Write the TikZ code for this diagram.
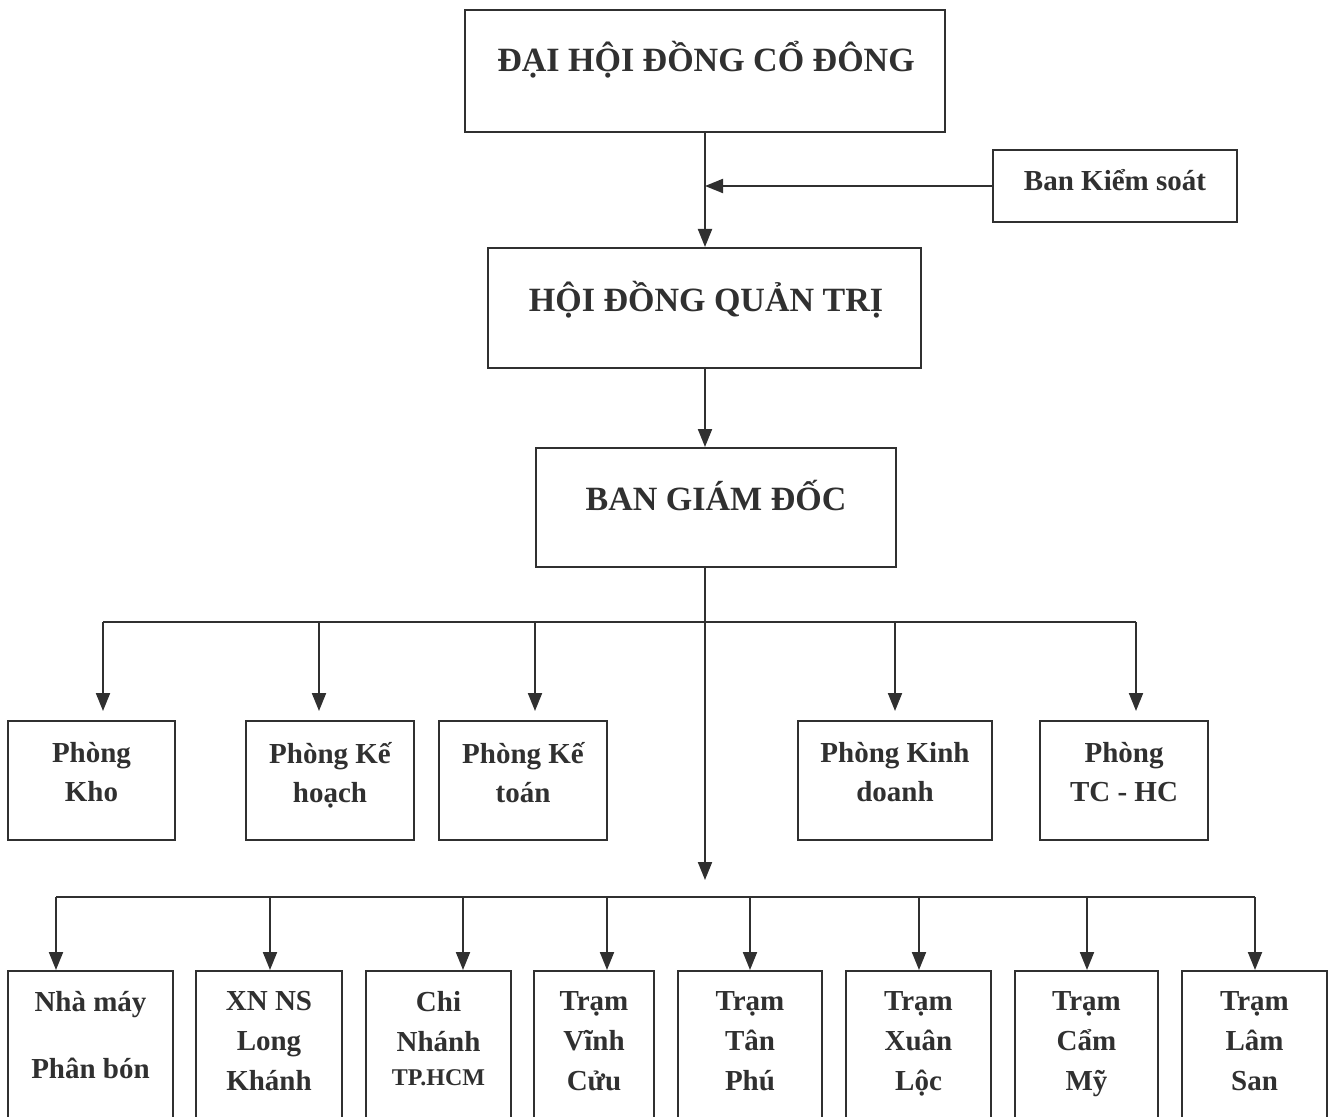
\documentclass[tikz,border=0pt]{standalone}
\usepackage{fontspec}
\setmainfont{Liberation Serif}
\usetikzlibrary{arrows.meta,calc}
\definecolor{ink}{HTML}{303030}
\begin{document}
\begin{tikzpicture}[x=0.5pt,y=-0.5pt,
  box/.style={draw=ink, line width=1pt, rectangle, inner sep=0pt},
  ln/.style={draw=ink, line width=1pt},
  arr/.style={draw=ink, line width=1pt, -{Triangle[width=7pt,length=9pt]}},
  big/.style={font=\bfseries\fontsize{17}{20}\selectfont, text=ink, inner sep=0pt},
  mid/.style={font=\bfseries\fontsize{14.5}{19}\selectfont, text=ink, inner sep=0pt},
  rowa/.style={font=\bfseries\fontsize{14.5}{19.5}\selectfont, text=ink, inner sep=0pt, align=center, anchor=north,
    execute at begin node=\strut, execute at end node=\strut},
  rowb/.style={font=\bfseries\fontsize{14.5}{20}\selectfont, text=ink, inner sep=0pt, align=center, anchor=north,
    execute at begin node=\strut, execute at end node=\strut},
]
\useasboundingbox (0,0) rectangle (1331,1117);
\fill[white] (0,0) rectangle (1331,1117);

% top boxes
\node[box, minimum width=240pt, minimum height=61pt] (dh) at (705,71) {};
\node[big, anchor=base] (tdh) at (706,72) {ĐẠI HỘI ĐỒNG CỔ ĐÔNG};
\node[box, minimum width=122pt, minimum height=36pt] (bks) at (1115,186) {};
\node[mid, anchor=base] (tbks) at (1115,191) {Ban Kiểm soát};
\node[box, minimum width=216.5pt, minimum height=60pt] (hd) at (704.5,308) {};
\node[big, anchor=base] (thd) at (706,312) {HỘI ĐỒNG QUẢN TRỊ};
\node[box, minimum width=180pt, minimum height=59.5pt] (bg) at (716,507.5) {};
\node[big, anchor=base] (tbg) at (716,510) {BAN GIÁM ĐỐC};

% row 1 boxes (y 721-840)
\node[box, minimum width=83.5pt, minimum height=59.5pt] (kho) at (91.5,780.5) {};
\node[box, minimum width=84pt, minimum height=59.5pt] (kh) at (330,780.5) {};
\node[box, minimum width=84pt, minimum height=59.5pt] (kt) at (523,780.5) {};
\node[box, minimum width=97pt, minimum height=59.5pt] (kd) at (895,780.5) {};
\node[box, minimum width=84pt, minimum height=59.5pt] (tc) at (1124,780.5) {};
\node[rowa] (tkho) at (91.5,742) {Phòng\\Kho};
\node[rowa] (tkh) at (330,742) {Phòng Kế\\hoạch};
\node[rowa] (tkt) at (523,742) {Phòng Kế\\toán};
\node[rowa] (tkd) at (895,742) {Phòng Kinh\\doanh};
\node[rowa] (ttc) at (1124,742) {Phòng\\TC - HC};

% row 2 boxes (top 971, run past the page bottom)
\node[box, minimum width=82.5pt, minimum height=84.5pt] (nm) at (90.5,1055.5) {};
\node[box, minimum width=73pt, minimum height=84.5pt] (xn) at (269,1055.5) {};
\node[box, minimum width=72.5pt, minimum height=84.5pt] (cn) at (438.5,1055.5) {};
\node[box, minimum width=60pt, minimum height=84.5pt] (vc) at (594,1055.5) {};
\node[box, minimum width=72pt, minimum height=84.5pt] (tp) at (750,1055.5) {};
\node[box, minimum width=72.5pt, minimum height=84.5pt] (xl) at (918.5,1055.5) {};
\node[box, minimum width=71.5pt, minimum height=84.5pt] (cm) at (1086.5,1055.5) {};
\node[box, minimum width=72.5pt, minimum height=84.5pt] (ls) at (1254.5,1055.5) {};
\node[rowb] (tnm) at (90.5,991) {Nhà máy\\[13.5pt]Phân bón};
\node[rowb] (txn) at (269,991) {XN NS\\Long\\Khánh};
\node[rowb] (tcn) at (438.5,991) {Chi\\Nhánh\\[-3pt]{\fontsize{12}{20}\selectfont TP.HCM}};
\node[rowb] (tvc) at (594,991) {Trạm\\Vĩnh\\Cửu};
\node[rowb] (ttp) at (750,991) {Trạm\\Tân\\Phú};
\node[rowb] (txl) at (918.5,991) {Trạm\\Xuân\\Lộc};
\node[rowb] (tcm) at (1086.5,991) {Trạm\\Cẩm\\Mỹ};
\node[rowb] (tls) at (1254.5,991) {Trạm\\Lâm\\San};

% junctions
\coordinate (j1) at (705,622);
\coordinate (j2) at (705,897);
\coordinate (tip) at (705,880);
\coordinate (ak) at ($(kho.north)+(11.5,0)$);
\coordinate (akh) at ($(kh.north)+(-11,0)$);
\coordinate (akt) at ($(kt.north)+(12,0)$);
\coordinate (akd) at ($(kd.north)+(0,0)$);
\coordinate (atc) at ($(tc.north)+(12,0)$);
\coordinate (anm) at ($(nm.north)+(-34.5,0)$);
\coordinate (axn) at ($(xn.north)+(1,0)$);
\coordinate (acn) at ($(cn.north)+(24.5,0)$);
\coordinate (avc) at ($(vc.north)+(13,0)$);
\coordinate (atp) at ($(tp.north)+(0,0)$);
\coordinate (axl) at ($(xl.north)+(0.5,0)$);
\coordinate (acm) at ($(cm.north)+(0.5,0)$);
\coordinate (als) at ($(ls.north)+(0.5,0)$);

% connectors
\draw[arr] (dh.south) -- (dh.south |- hd.north);
\draw[arr] (bks.west) -- (bks.west -| dh.south);
\draw[arr] (tip |- hd.south) -- (tip |- bg.north);
\draw[arr] (tip |- bg.south) -- (tip);

\draw[ln] (ak |- j1) -- (atc |- j1);
\foreach \c in {ak,akh,akt,akd,atc}{
  \draw[arr, shorten >=4.5pt] (\c |- j1) -- (\c);
}
\draw[ln] (anm |- j2) -- (als |- j2);
\foreach \c in {anm,axn,acn,avc,atp,axl,acm,als}{
  \draw[arr] (\c |- j2) -- (\c);
}
\end{tikzpicture}
\end{document}
